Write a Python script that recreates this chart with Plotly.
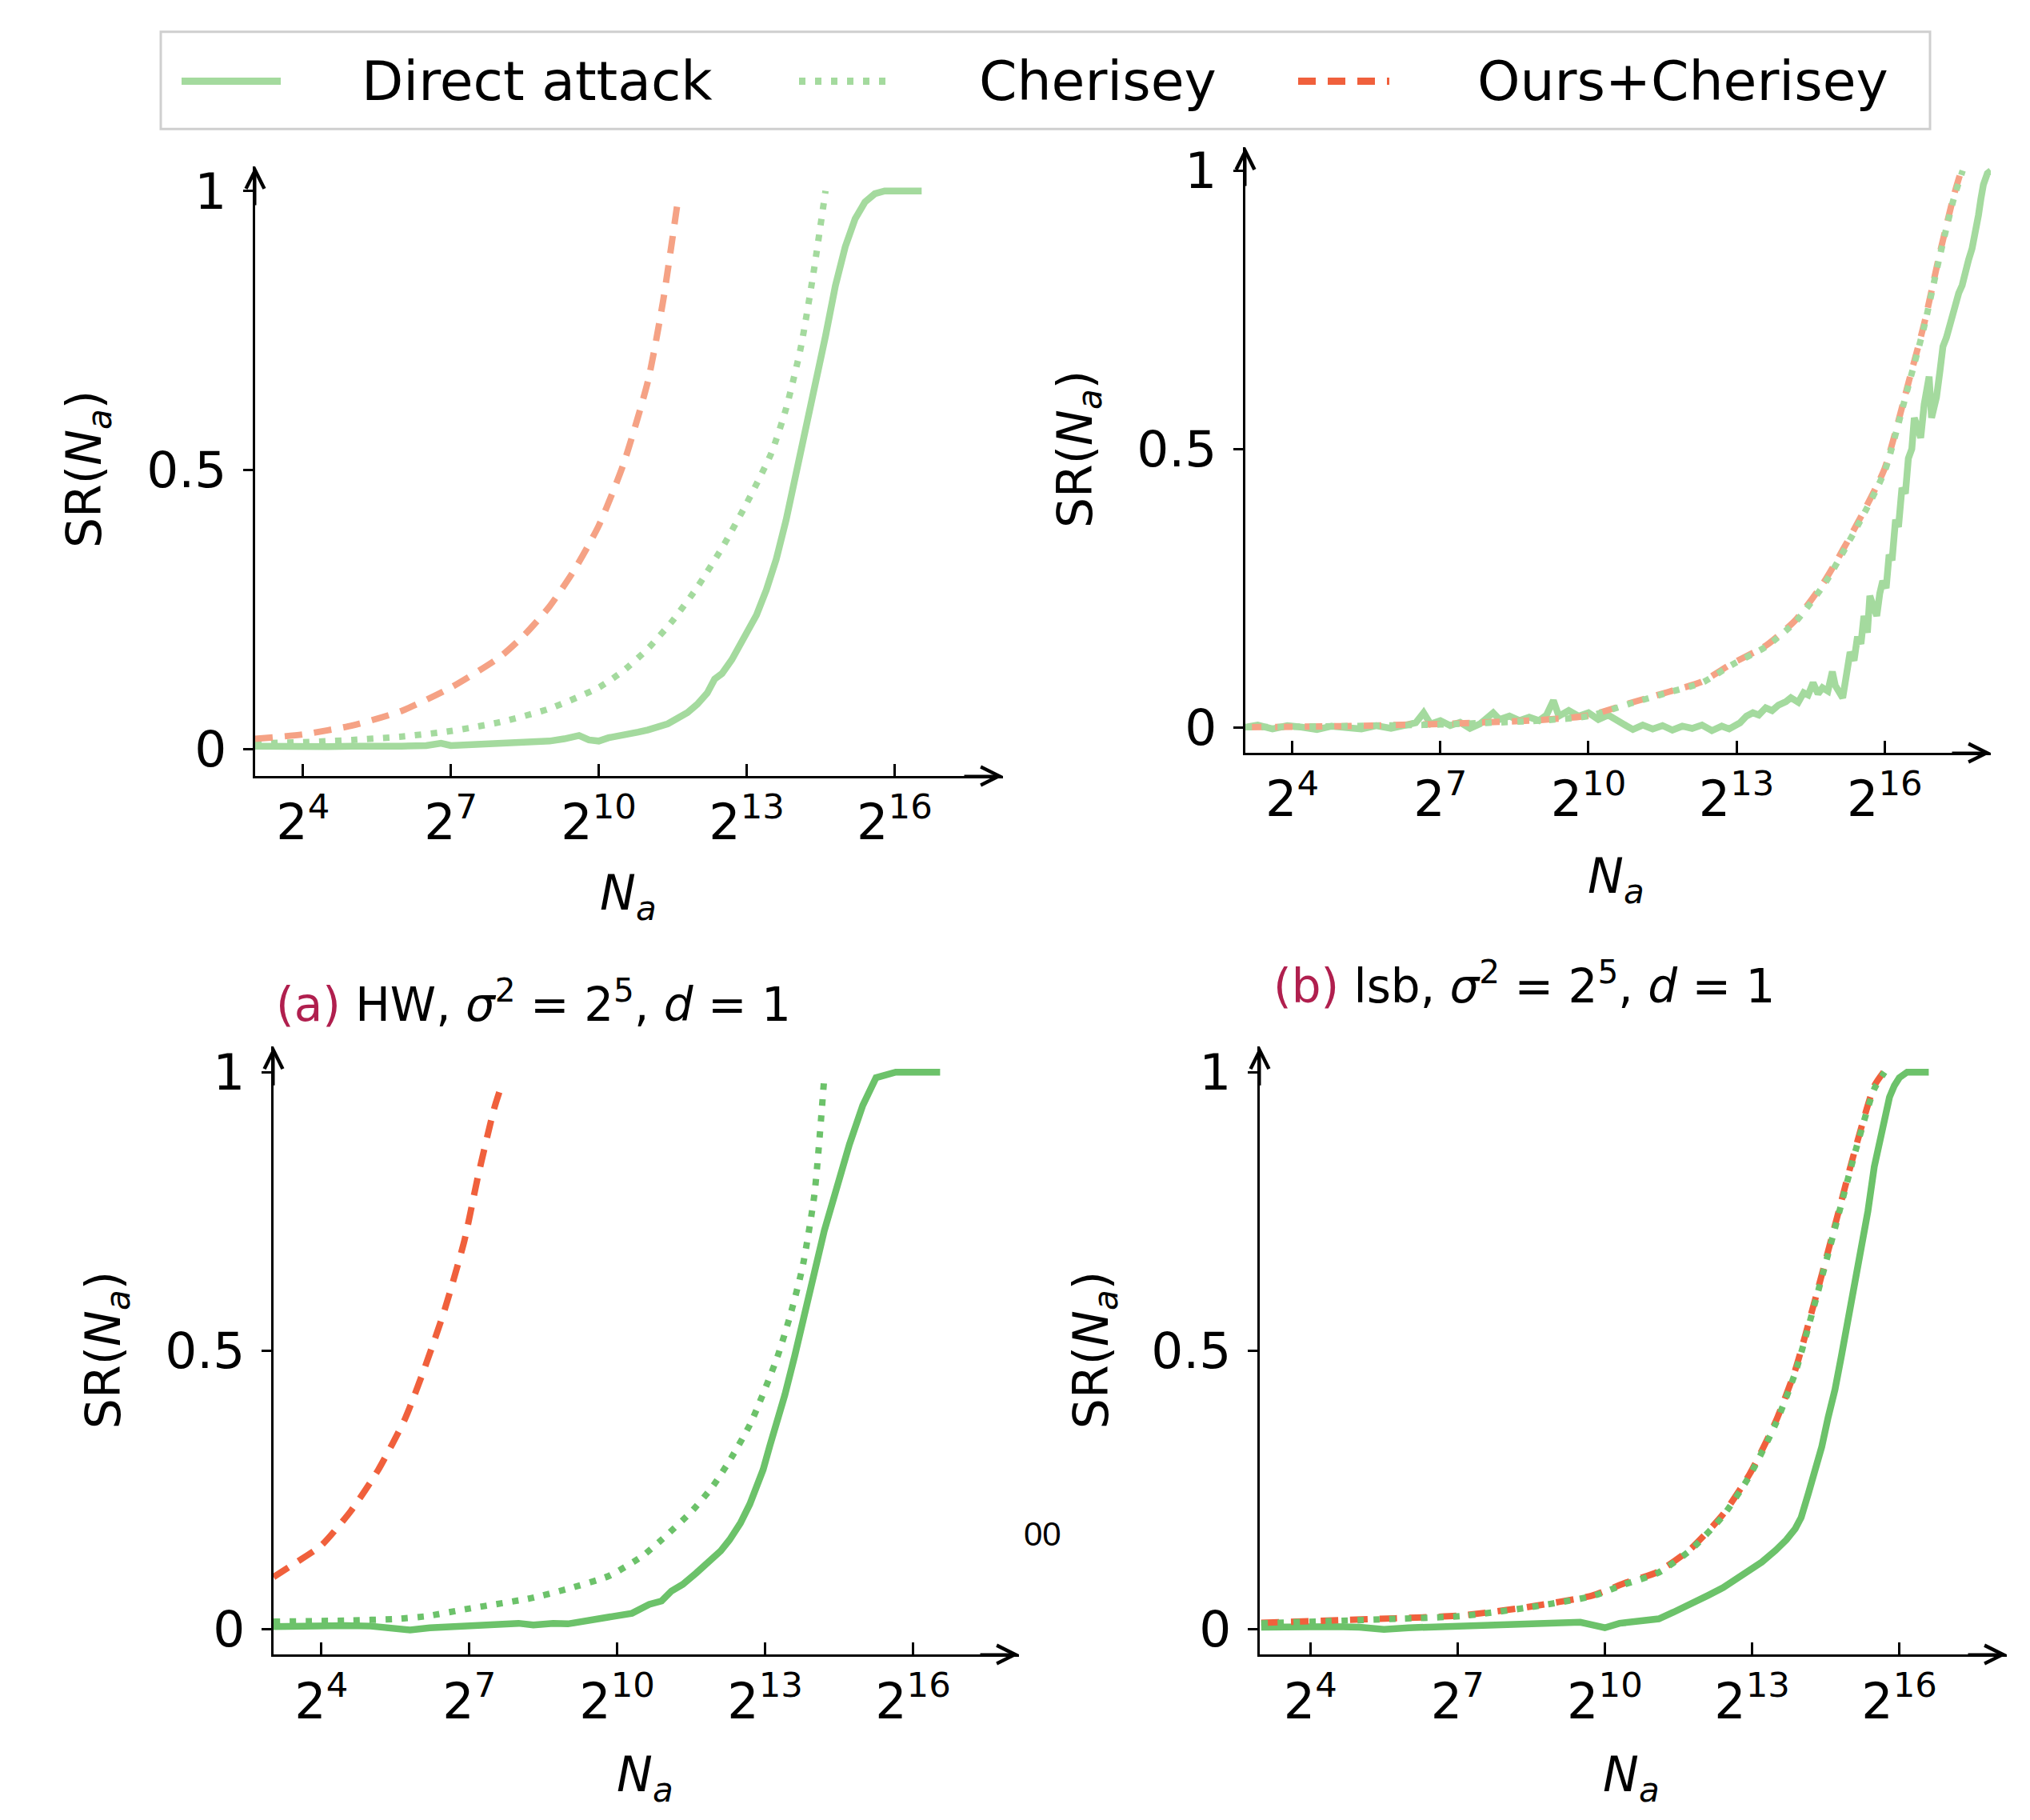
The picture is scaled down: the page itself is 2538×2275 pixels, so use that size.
import plotly.graph_objects as go
import math

# ---------------- data (x as log2 exponents of N_a, y = SR) ----------------
TICK_EXPS = [4, 7, 10, 13, 16]
TICK_TEXT = ["2<sup>4</sup>", "2<sup>7</sup>", "2<sup>10</sup>", "2<sup>13</sup>", "2<sup>16</sup>"]
Y_TICKS = [0, 0.5, 1]
Y_TICK_TEXT = ["0", "0.5", "1"]

# (a) top-left: HW, sigma^2 = 2^5, d = 1
tl_direct_x = [3.03, 3.5, 4.0, 4.5, 5.0, 5.5, 6.0, 6.5, 6.8, 7.0, 7.5, 8.0, 8.5, 9.0, 9.3, 9.6, 9.8, 10.0,
               10.2, 10.5, 10.8, 11.0, 11.2, 11.4, 11.6, 11.8, 12.0, 12.2, 12.35, 12.5, 12.7, 12.9, 13.0,
               13.2, 13.4, 13.6, 13.8, 14.0, 14.2, 14.4, 14.6, 14.8, 15.0, 15.2, 15.4, 15.6, 15.8, 16.0,
               16.3, 16.55]
tl_direct_y = [0.005, 0.004, 0.005, 0.004, 0.005, 0.004, 0.005, 0.006, 0.010, 0.006, 0.008, 0.009, 0.012,
               0.014, 0.018, 0.024, 0.016, 0.014, 0.020, 0.024, 0.030, 0.034, 0.040, 0.045, 0.055, 0.065,
               0.080, 0.100, 0.125, 0.135, 0.160, 0.190, 0.205, 0.240, 0.285, 0.340, 0.410, 0.490, 0.570,
               0.650, 0.740, 0.830, 0.900, 0.950, 0.980, 0.995, 1.0, 1.0, 1.0, 1.0]
tl_cher_x = [3.03, 4, 5, 6, 7, 8, 9, 10, 10.5, 11, 11.5, 12, 12.5, 13, 13.5, 13.8, 14.1, 14.35, 14.6]
tl_cher_y = [0.010, 0.012, 0.016, 0.022, 0.032, 0.048, 0.072, 0.110, 0.140, 0.180, 0.230, 0.290, 0.360,
             0.440, 0.530, 0.610, 0.720, 0.850, 1.0]
tl_ours_x = [3.03, 4, 5, 6, 7, 8, 8.5, 9, 9.5, 10, 10.5, 11, 11.3, 11.6]
tl_ours_y = [0.018, 0.026, 0.042, 0.068, 0.110, 0.165, 0.205, 0.255, 0.320, 0.400, 0.510, 0.660, 0.800, 0.980]

# (b) top-right: lsb, sigma^2 = 2^5, d = 1
tr_direct_x = [3.05, 3.3, 3.6, 3.9, 4.2, 4.5, 4.8, 5.1, 5.4, 5.7, 6.0, 6.3, 6.5, 6.66, 6.8, 7.0, 7.2, 7.4,
               7.6, 7.8, 8.07, 8.2, 8.4, 8.6, 8.8, 9.0, 9.15, 9.29, 9.4, 9.6, 9.8, 10.0, 10.2, 10.4, 10.6,
               10.76, 10.9, 11.1, 11.3, 11.5, 11.7, 11.9, 12.1, 12.3, 12.5, 12.7, 12.85, 13.07, 13.2, 13.33,
               13.45, 13.59, 13.72, 13.85, 14.0, 14.1, 14.25, 14.36, 14.45, 14.55, 14.65, 14.74, 14.85,
               14.94, 15.0, 15.07, 15.15, 15.2, 15.3, 15.38, 15.45, 15.52, 15.58, 15.65, 15.7, 15.78, 15.84,
               15.9, 15.96, 16.03, 16.09, 16.15, 16.22, 16.28, 16.35, 16.42, 16.48, 16.55, 16.6, 16.66,
               16.73, 16.8, 16.86, 16.9, 16.95, 17.0, 17.05, 17.12, 17.18, 17.25, 17.31, 17.38, 17.44, 17.5,
               17.57, 17.63, 17.7, 17.77, 17.83, 17.9, 17.95, 18.0, 18.08, 18.15]
tr_direct_y = [0.0, 0.004, -0.003, 0.003, 0.0, -0.004, 0.002, 0.0, -0.003, 0.003, -0.002, 0.004, 0.008,
               0.026, 0.006, 0.012, 0.003, 0.009, -0.002, 0.006, 0.026, 0.014, 0.020, 0.012, 0.018, 0.012,
               0.022, 0.048, 0.020, 0.030, 0.020, 0.026, 0.014, 0.022, 0.010, 0.003, -0.004, 0.004, -0.003,
               0.003, -0.005, 0.002, -0.002, 0.004, -0.006, 0.002, -0.003, 0.008, 0.020, 0.026, 0.022,
               0.035, 0.030, 0.040, 0.046, 0.053, 0.045, 0.062, 0.058, 0.080, 0.060, 0.071, 0.065, 0.100,
               0.075, 0.062, 0.053, 0.080, 0.135, 0.120, 0.163, 0.150, 0.200, 0.170, 0.236, 0.215, 0.200,
               0.240, 0.263, 0.250, 0.310, 0.300, 0.373, 0.360, 0.430, 0.420, 0.483, 0.500, 0.556, 0.540,
               0.520, 0.580, 0.610, 0.630, 0.556, 0.570, 0.593, 0.640, 0.684, 0.700, 0.720, 0.740, 0.767,
               0.780, 0.794, 0.820, 0.840, 0.860, 0.885, 0.920, 0.950, 0.975, 0.995, 1.0]
tr_cher_x = [3.05, 5, 7, 9, 10, 10.9, 11.6, 12.3, 12.9, 13.6, 14.2, 14.8, 15.5, 16.0, 16.5, 16.8, 17.1, 17.4, 17.58]
tr_cher_y = [0.0, 0.002, 0.005, 0.012, 0.020, 0.044, 0.062, 0.080, 0.112, 0.145, 0.190, 0.260, 0.370,
             0.460, 0.620, 0.720, 0.840, 0.950, 1.0]
tr_ours_x = [3.05, 5, 7, 9, 10, 10.9, 11.6, 12.3, 12.9, 13.6, 14.2, 14.8, 15.5, 16.0, 16.5, 16.8, 17.1, 17.4, 17.55]
tr_ours_y = [0.0, 0.002, 0.006, 0.013, 0.021, 0.045, 0.063, 0.082, 0.114, 0.147, 0.193, 0.265, 0.375,
             0.465, 0.625, 0.725, 0.845, 0.955, 1.0]

# (c) bottom-left
bl_direct_x = [3.03, 3.5, 4, 4.5, 5, 5.5, 5.8, 6.2, 6.6, 7, 7.5, 8, 8.3, 8.7, 9, 9.4, 9.8, 10, 10.3, 10.65,
               10.9, 11.1, 11.33, 11.6, 11.87, 12.1, 12.28, 12.5, 12.69, 12.85, 12.96, 13.1, 13.23, 13.4,
               13.6, 13.8, 14.0, 14.2, 14.44, 14.71, 14.98, 15.25, 15.65, 16.0, 16.55]
bl_direct_y = [0.004, 0.005, 0.004, 0.006, 0.005, 0.002, -0.002, 0.002, 0.004, 0.005, 0.006, 0.010, 0.007,
               0.010, 0.009, 0.014, 0.022, 0.024, 0.028, 0.044, 0.050, 0.068, 0.080, 0.100, 0.120, 0.140,
               0.160, 0.190, 0.224, 0.260, 0.286, 0.330, 0.368, 0.420, 0.490, 0.560, 0.640, 0.715, 0.790,
               0.870, 0.940, 0.990, 1.0, 1.0, 1.0]
bl_cher_x = [3.03, 4.5, 5.55, 6.15, 6.9, 8.24, 9.0, 9.83, 10.5, 10.9, 11.5, 11.93, 12.3, 12.71, 13.24, 13.5,
             13.76, 14.0, 14.2]
bl_cher_y = [0.013, 0.015, 0.018, 0.023, 0.035, 0.055, 0.072, 0.095, 0.130, 0.160, 0.210, 0.255, 0.305,
             0.370, 0.486, 0.560, 0.650, 0.780, 0.990]
bl_ours_x = [3.03, 3.5, 4.0, 4.6, 5.15, 5.7, 6.1, 6.5, 6.9, 7.17, 7.5, 7.65]
bl_ours_y = [0.093, 0.120, 0.150, 0.212, 0.285, 0.378, 0.470, 0.573, 0.697, 0.810, 0.933, 0.975]

# (d) bottom-right
br_direct_x = [3.0, 3.5, 4, 4.5, 5, 5.5, 6, 6.5, 7, 7.5, 8, 8.5, 9, 9.5, 9.8, 10, 10.3, 10.6, 11.1, 11.4,
               11.74, 12.1, 12.41, 12.7, 12.95, 13.2, 13.48, 13.7, 13.88, 14.0, 14.15, 14.3, 14.42, 14.55,
               14.69, 14.82, 14.96, 15.1, 15.23, 15.36, 15.49, 15.6, 15.7, 15.8, 15.9, 16.0, 16.16, 16.6]
br_direct_y = [0.003, 0.004, 0.003, 0.004, 0.003, -0.001, 0.002, 0.003, 0.006, 0.005, 0.008, 0.009, 0.010,
               0.012, 0.006, 0.002, 0.010, 0.012, 0.018, 0.030, 0.043, 0.060, 0.074, 0.090, 0.105, 0.120,
               0.141, 0.160, 0.180, 0.200, 0.244, 0.290, 0.327, 0.380, 0.430, 0.490, 0.554, 0.620, 0.677,
               0.750, 0.830, 0.880, 0.925, 0.955, 0.976, 0.990, 1.0, 1.0]
br_cher_x = [3.0, 5.74, 7.07, 8.41, 9.75, 10.4, 11.07, 11.74, 12.41, 12.95, 13.48, 13.88, 14.28, 14.69, 15.09, 15.49, 15.7]
br_cher_y = [0.010, 0.018, 0.023, 0.038, 0.059, 0.080, 0.100, 0.141, 0.203, 0.275, 0.368, 0.460, 0.585,
             0.720, 0.853, 0.970, 1.0]
br_ours_x = [3.0, 5.74, 7.07, 8.41, 9.75, 10.4, 11.07, 11.74, 12.41, 12.95, 13.48, 13.88, 14.28, 14.69, 15.09, 15.49, 15.68]
br_ours_y = [0.011, 0.019, 0.024, 0.039, 0.060, 0.082, 0.102, 0.143, 0.206, 0.278, 0.372, 0.465, 0.590,
             0.725, 0.858, 0.975, 1.0]

LEGEND_NAMES = ["Direct attack", "Cherisey", "Ours+Cherisey"]
CAPTION_A = "<span style='color:#b01f4e'>(a)</span> HW, <i>σ</i><sup>2</sup> = 2<sup>5</sup>, <i>d</i> = 1"
CAPTION_B = "<span style='color:#b01f4e'>(b)</span> lsb, <i>σ</i><sup>2</sup> = 2<sup>5</sup>, <i>d</i> = 1"

# ---------------- styling ----------------
W, H = 2538, 2275
OFF = 8  # the page body margin shifts the figure by this many pixels
FONT = "DejaVu Sans"
G_LIGHT = "#a4da9e"
G_DARK = "#6cc26a"
O_LIGHT = "#f5a285"
O_DARK = "#f0603c"
DOT = "8px,12px"
DASH = "22px,15px"
LW = 8
LW_SOLID = 8.5

def px_x(p):
    return (p - OFF) / W

def px_y(p):
    return 1 - (p - OFF) / H

panels = [
    dict(xd=(319, 1254), yd=(202, 968), xr=(3.03, 18.2), yr=(-0.0485, 1.044), g=G_LIGHT, o=O_LIGHT,
         direct=(tl_direct_x, tl_direct_y), cher=(tl_cher_x, tl_cher_y), ours=(tl_ours_x, tl_ours_y), green_top=False),
    dict(xd=(1557, 2489), yd=(178, 939), xr=(3.05, 18.15), yr=(-0.046, 1.042), g=G_LIGHT, o=O_LIGHT,
         direct=(tr_direct_x, tr_direct_y), cher=(tr_cher_x, tr_cher_y), ours=(tr_ours_x, tr_ours_y), green_top=True),
    dict(xd=(342, 1274), yd=(1308, 2072), xr=(3.03, 18.15), yr=(-0.046, 1.046), g=G_DARK, o=O_DARK,
         direct=(bl_direct_x, bl_direct_y), cher=(bl_cher_x, bl_cher_y), ours=(bl_ours_x, bl_ours_y), green_top=False),
    dict(xd=(1575, 2509), yd=(1308, 2072), xr=(2.97, 18.19), yr=(-0.046, 1.046), g=G_DARK, o=O_DARK,
         direct=(br_direct_x, br_direct_y), cher=(br_cher_x, br_cher_y), ours=(br_ours_x, br_ours_y), green_top=True),
]

fig = go.Figure()
annotations = []
shapes = []

for i, p in enumerate(panels, start=1):
    xa = "x" if i == 1 else f"x{i}"
    ya = "y" if i == 1 else f"y{i}"
    def tr(xs, ys, color, dash, spline, width):
        return go.Scatter(
            x=[2 ** e for e in xs], y=ys, xaxis=xa, yaxis=ya, mode="lines", showlegend=False,
            line=dict(color=color, width=width, dash=dash, shape="spline" if spline else "linear",
                      smoothing=0.6),
            hoverinfo="skip")
    fig.add_trace(tr(*p["direct"], p["g"], "solid", False, LW_SOLID))
    if p["green_top"]:
        fig.add_trace(tr(*p["ours"], p["o"], DASH, True, LW))
        fig.add_trace(tr(*p["cher"], p["g"], DOT, True, LW))
    else:
        fig.add_trace(tr(*p["cher"], p["g"], DOT, True, LW))
        fig.add_trace(tr(*p["ours"], p["o"], DASH, True, LW))

    xkey = "xaxis" if i == 1 else f"xaxis{i}"
    ykey = "yaxis" if i == 1 else f"yaxis{i}"
    fig.update_layout(**{
        xkey: dict(
            type="log", domain=[px_x(p["xd"][0]), px_x(p["xd"][1])],
            range=[p["xr"][0] * math.log10(2), p["xr"][1] * math.log10(2)],
            anchor=ya, showgrid=False, zeroline=False, showline=True, linecolor="black", linewidth=3,
            ticks="inside", ticklen=15, tickwidth=2.5, tickcolor="black",
            tickvals=[2 ** e for e in TICK_EXPS], ticktext=TICK_TEXT,
            tickfont=dict(family=FONT, size=62, color="black"), ticklabelstandoff=2,
        ),
        ykey: dict(
            domain=[px_y(p["yd"][1]), px_y(p["yd"][0])], range=list(p["yr"]), anchor=xa,
            showgrid=False, zeroline=False, showline=True, linecolor="black", linewidth=3,
            ticks="outside", ticklen=12, tickwidth=2.5, tickcolor="black",
            tickvals=Y_TICKS, ticktext=Y_TICK_TEXT,
            tickfont=dict(family=FONT, size=63, color="black"), ticklabelstandoff=8,
        ),
    })
    xdom = f"{xa} domain"
    ydom = f"{ya} domain"
    annotations.append(dict(x=1, y=0, xref=xdom, yref=ydom, ax=-50, ay=0, showarrow=True,
                            arrowhead=5, arrowsize=1.5, arrowwidth=3, arrowcolor="black", text=""))
    annotations.append(dict(x=0, y=1, xref=xdom, yref=ydom, ax=0, ay=50, showarrow=True,
                            arrowhead=5, arrowsize=1.5, arrowwidth=3, arrowcolor="black", text=""))

# axis titles
ytitle = "SR(<i>N</i><sub><i>a</i></sub>)"
xtitle = "<i>N</i><sub><i>a</i></sub>"
for (cx, cy) in [(110, 583), (1348, 558), (133, 1690), (1368, 1690)]:
    annotations.append(dict(x=px_x(cx), y=px_y(cy), xref="paper", yref="paper", text=ytitle,
                            textangle=-90, showarrow=False, xanchor="center", yanchor="middle",
                            font=dict(family=FONT, size=60, color="black")))
for (cx, cy) in [(785, 1119), (2020, 1098), (806, 2227), (2039, 2227)]:
    annotations.append(dict(x=px_x(cx), y=px_y(cy), xref="paper", yref="paper", text=xtitle,
                            showarrow=False, xanchor="center", yanchor="middle",
                            font=dict(family=FONT, size=60, color="black")))

# captions
annotations.append(dict(x=px_x(667), y=px_y(1252), xref="paper", yref="paper", text=CAPTION_A,
                        showarrow=False, xanchor="center", yanchor="middle",
                        font=dict(family=FONT, size=58, color="black")))
annotations.append(dict(x=px_x(1905), y=px_y(1228), xref="paper", yref="paper", text=CAPTION_B,
                        showarrow=False, xanchor="center", yanchor="middle",
                        font=dict(family=FONT, size=58, color="black")))
annotations.append(dict(x=px_x(1303), y=px_y(1921), xref="paper", yref="paper", text="00",
                        showarrow=False, xanchor="center", yanchor="middle",
                        font=dict(family="Liberation Sans", size=42, color="black")))

# legend box (drawn manually to match the wide samples)
shapes.append(dict(type="rect", xref="paper", yref="paper", x0=px_x(201), x1=px_x(2413),
                   y0=px_y(155), y1=px_y(33), line=dict(color="#cfcfcf", width=3), fillcolor="white",
                   layer="below"))
leg_y = px_y(95)
samples = [((227, 351), G_LIGHT, "solid", 450), ((999, 1117), G_LIGHT, DOT, 1222), ((1623, 1737), O_DARK, DASH, 1845)]
for (x0, x1), col, dsh, tx in samples:
    shapes.append(dict(type="line", xref="paper", yref="paper", x0=px_x(x0), x1=px_x(x1), y0=leg_y, y1=leg_y,
                       line=dict(color=col, width=LW + 1, dash=dsh)))
for (_, _, _, tx), name in zip(samples, LEGEND_NAMES):
    annotations.append(dict(x=px_x(tx), y=leg_y, xref="paper", yref="paper", text=name, showarrow=False,
                            xanchor="left", yanchor="middle", font=dict(family=FONT, size=68, color="black")))

fig.update_layout(
    width=W, height=H, margin=dict(l=0, r=0, t=0, b=0),
    paper_bgcolor="white", plot_bgcolor="white",
    annotations=annotations, shapes=shapes, showlegend=False,
    font=dict(family=FONT, color="black"),
)

fig.write_html("out.html")
